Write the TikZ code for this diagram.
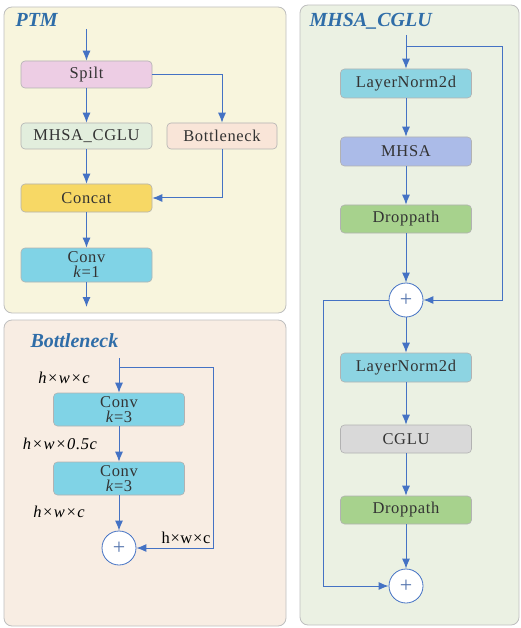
\documentclass[tikz,border=0pt]{standalone}
\usepackage{fontspec}
\setmainfont{Liberation Serif}
\newfontfamily\boxfont[LetterSpace=4]{Liberation Serif}
\usepackage{xcolor}
\usetikzlibrary{arrows.meta}

\definecolor{arrowblue}{HTML}{4472C4}
\definecolor{titleblue}{HTML}{2F6DA8}
\definecolor{panelyellow}{HTML}{F8F5DD}
\definecolor{panelpeach}{HTML}{F8EDE3}
\definecolor{panelgreen}{HTML}{EBF1E3}
\definecolor{spiltpink}{HTML}{EDCDE4}
\definecolor{mhsagreen}{HTML}{E2EEDD}
\definecolor{bneckpeach}{HTML}{F9E5D8}
\definecolor{concatyellow}{HTML}{F7D865}
\definecolor{convcyan}{HTML}{80D3E6}
\definecolor{normcyan}{HTML}{8DD4E2}
\definecolor{attblue}{HTML}{ABBBE8}
\definecolor{dropgreen}{HTML}{A7D28D}
\definecolor{cglugray}{HTML}{D9D9D9}

\begin{document}
\begin{tikzpicture}[x=1pt, y=-1pt,
    every node/.style={font=\boxfont\fontsize{16.5}{15}\selectfont, text=black!80},
    panel/.style={draw=black!25, line width=0.8pt, rounded corners=8pt},
    blk/.style={draw=black!30, line width=0.6pt, rounded corners=4pt, minimum width=131pt, minimum height=27pt, inner sep=0pt, align=center},
    arr/.style={-{Latex[length=10pt, width=8pt]}, draw=arrowblue, line width=1pt},
    addop/.style={circle, draw=arrowblue, fill=white, line width=0.8pt, minimum size=34pt, inner sep=0pt, text=arrowblue!70!gray, font=\rmfamily\fontsize{22}{22}\selectfont},
    paneltitle/.style={anchor=west, text=titleblue, font=\rmfamily\fontsize{20}{20}\selectfont\bfseries\itshape},
    dimlabel/.style={font=\boxfont\fontsize{16.5}{16}\selectfont\itshape, text=black}]
    \useasboundingbox (0,0) rectangle (521,628);

    % panels
    \draw[panel, fill=panelyellow] (4,7) rectangle (286,313);
    \draw[panel, fill=panelpeach] (4,320) rectangle (286,626);
    \draw[panel, fill=panelgreen] (300,5) rectangle (519,625);

    % PTM
    \node[paneltitle] (ptmtitle) at (12,20) {PTM};
    \coordinate (ptmin) at (86.5,29);
    \node[blk, fill=spiltpink] (spilt) at (86.5,74.5) {Spilt};
    \node[blk, fill=mhsagreen, minimum height=26pt] (mhsacglu) at (86.5,136) {MHSA\_CGLU};
    \node[blk, fill=bneckpeach, minimum width=110pt, minimum height=26pt] (bneck) at (222,136) {Bottleneck};
    \node[blk, fill=concatyellow, minimum height=28pt] (concat) at (86.5,198) {Concat};
    \node[blk, fill=convcyan, minimum height=34pt] (conv) at (86.5,265) {Conv\\\textit{k}=1};
    \coordinate (ptmout) at (86.5,307);
    \draw[arr] (ptmin) -- (spilt);
    \draw[arr] (spilt) -- (mhsacglu);
    \draw[arr] (spilt.east) -| (bneck.north);
    \draw[arr] (mhsacglu) -- (concat);
    \draw[arr] (bneck.south) |- (concat.east);
    \draw[arr] (concat) -- (conv);
    \draw[arr] (conv) -- (ptmout);

    % Bottleneck
    \node[paneltitle] (bntitle) at (27,341) {Bottleneck};
    \coordinate (bnin) at (119,358);
    \coordinate (bnsplit) at (119,367);
    \node[blk, fill=convcyan, minimum height=33pt] (conva) at (119,409.5) {Conv\\\textit{k}=3};
    \node[blk, fill=convcyan, minimum height=33pt] (convb) at (119,478.5) {Conv\\\textit{k}=3};
    \node[addop] (bnadd) at (119,548) {+};
    \coordinate (bncorner) at (213,367);
    \draw[arr] (bnin) -- (conva);
    \draw[arr] (conva) -- (convb);
    \draw[arr] (convb) -- (bnadd);
    \draw[arr] (bnsplit) -- (bncorner) |- (bnadd.east);
    \node[dimlabel] (dima) at (64,378) {h×w×c};
    \node[dimlabel] (dimb) at (60,444) {h×w×0.5c};
    \node[dimlabel] (dimc) at (59,512) {h×w×c};
    \node[text=black] (dimd) at (186,538) {h×w×c};

    % MHSA_CGLU
    \node[paneltitle] (mctitle) at (306,21) {MHSA\_CGLU};
    \coordinate (mcin) at (406,35);
    \coordinate (mcsplit) at (406,47);
    \coordinate (mccorner) at (502,47);
    \node[blk, fill=normcyan, minimum height=29pt] (norma) at (406,83.5) {LayerNorm2d};
    \node[blk, fill=attblue, minimum height=29pt] (att) at (406,151.5) {MHSA};
    \node[blk, fill=dropgreen, minimum height=28pt] (dropa) at (406,219) {Droppath};
    \node[addop] (adda) at (406,300) {+};
    \node[blk, fill=normcyan, minimum height=29pt] (normb) at (406,367.5) {LayerNorm2d};
    \node[blk, fill=cglugray, minimum height=28pt] (cglu) at (406,439) {CGLU};
    \node[blk, fill=dropgreen, minimum height=28pt] (dropb) at (406,510) {Droppath};
    \node[addop] (addb) at (406,586) {+};
    \coordinate (mcleft) at (323,300);
    \draw[arr] (mcin) -- (norma);
    \draw[arr] (norma) -- (att);
    \draw[arr] (att) -- (dropa);
    \draw[arr] (dropa) -- (adda);
    \draw[arr] (mcsplit) -- (mccorner) |- (adda.east);
    \draw[arr] (adda) -- (normb);
    \draw[arr] (normb) -- (cglu);
    \draw[arr] (cglu) -- (dropb);
    \draw[arr] (dropb) -- (addb);
    \draw[arr] (adda.west) -- (mcleft) |- (addb.west);
\end{tikzpicture}
\end{document}
